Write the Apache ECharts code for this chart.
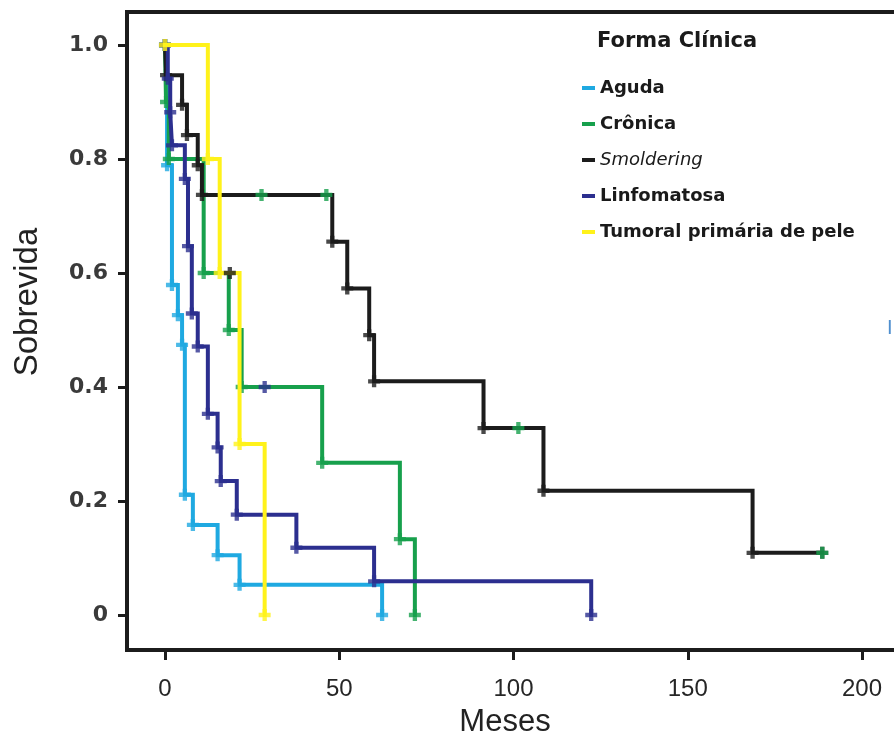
<!DOCTYPE html>
<html>
<head>
<meta charset="utf-8">
<script src="https://cdn.jsdelivr.net/npm/echarts@6/dist/echarts.min.js"></script>
<style>
  html, body { margin: 0; padding: 0; background: #ffffff; }
  #chart { width: 894px; height: 738px; }
</style>
</head>
<body>
<div id="chart"></div>
<script>
// Kaplan-Meier survival by clinical form (months vs. survival proportion)

const seriesNames = ['Aguda', 'Crônica', 'Smoldering', 'Linfomatosa', 'Tumoral primária de pele'];

// Aguda
const agudaTime = [0, 0.6, 2.0, 3.7, 4.9, 5.7, 8.0, 15.1, 21.4, 62.3];
const agudaSurv = [1, 0.789, 0.579, 0.526, 0.474, 0.211, 0.158, 0.105, 0.053, 0];
const agudaCensTime = [];
const agudaCensSurv = [];

// Crônica
const cronicaTime = [0, 0.3, 1.1, 11.1, 18.3, 22.0, 45.1, 67.4, 71.7];
const cronicaSurv = [1, 0.9, 0.8, 0.6, 0.5, 0.4, 0.267, 0.133, 0];
const cronicaCensTime = [28.6];
const cronicaCensSurv = [0.4];

// Smoldering
const smolderingTime = [0, 0.3, 4.9, 6.3, 9.4, 10.6, 48.0, 52.3, 58.6, 60.0, 91.4, 108.6, 168.6, 188.6];
const smolderingSurv = [1, 0.947, 0.895, 0.842, 0.789, 0.737, 0.655, 0.573, 0.491, 0.41, 0.328, 0.218, 0.109, 0.109];
const smolderingCensTime = [27.7, 46.3, 101.4, 188.6];
const smolderingCensSurv = [0.737, 0.737, 0.328, 0.109];

// Linfomatosa
const linfomatosaTime = [0, 0.8, 1.5, 2.0, 5.7, 6.6, 7.7, 9.4, 12.3, 15.1, 16.0, 20.6, 37.7, 60.0, 122.3];
const linfomatosaSurv = [1, 0.941, 0.882, 0.824, 0.765, 0.647, 0.529, 0.471, 0.353, 0.294, 0.235, 0.176, 0.118, 0.059, 0];
const linfomatosaCensTime = [];
const linfomatosaCensSurv = [];

// Tumoral primária de pele
const tumoralTime = [0, 12.3, 15.7, 21.4, 28.6];
const tumoralSurv = [1, 0.8, 0.6, 0.3, 0];
const tumoralCensTime = [18.6];
const tumoralCensSurv = [0.6];

// Axis ticks
const xTickValues = [0, 50, 100, 150, 200];
const yTickValues = [0, 0.2, 0.4, 0.6, 0.8, 1.0];

const colors = {
  'Aguda': '#1fa9e1',
  'Crônica': '#17a04c',
  'Smoldering': '#1c1c1c',
  'Linfomatosa': '#2c2f8f',
  'Tumoral primária de pele': '#fff21a'
};

// censor ticks are drawn with the colour of the neighbouring group
const censorColors = {
  'Aguda': '#fff21a',
  'Crônica': '#2c2f8f',
  'Smoldering': '#17a04c',
  'Linfomatosa': '#1fa9e1',
  'Tumoral primária de pele': '#1c1c1c'
};

const groups = [
  { name: 'Aguda', t: agudaTime, s: agudaSurv, ct: agudaCensTime, cs: agudaCensSurv },
  { name: 'Crônica', t: cronicaTime, s: cronicaSurv, ct: cronicaCensTime, cs: cronicaCensSurv },
  { name: 'Smoldering', t: smolderingTime, s: smolderingSurv, ct: smolderingCensTime, cs: smolderingCensSurv },
  { name: 'Linfomatosa', t: linfomatosaTime, s: linfomatosaSurv, ct: linfomatosaCensTime, cs: linfomatosaCensSurv },
  { name: 'Tumoral primária de pele', t: tumoralTime, s: tumoralSurv, ct: tumoralCensTime, cs: tumoralCensSurv }
];

const plusPath = 'path://M3.2,0H6.8V3.2H10V6.8H6.8V10H3.2V6.8H0V3.2H3.2Z';

const series = [];
groups.forEach(function (g, idx) {
  const pts = g.t.map(function (t, i) { return [t, g.s[i]]; });
  series.push({
    name: g.name,
    type: 'line',
    step: 'end',
    data: pts,
    showSymbol: false,
    symbol: 'none',
    z: 2 + idx,
    lineStyle: { color: colors[g.name], width: 4, cap: 'square', join: 'miter' },
    itemStyle: { color: colors[g.name] },
    emphasis: { disabled: true },
    animation: false
  });
  // event markers at each step corner
  series.push({
    name: g.name + ' eventos',
    type: 'scatter',
    data: pts,
    symbol: plusPath,
    symbolSize: 12,
    z: 2 + idx,
    itemStyle: { color: colors[g.name] },
    emphasis: { disabled: true },
    animation: false
  });
  if (g.ct.length) {
    series.push({
      name: g.name + ' censura',
      type: 'scatter',
      data: g.ct.map(function (t, i) { return [t, g.cs[i]]; }),
      symbol: plusPath,
      symbolSize: 12,
      z: 8,
      itemStyle: { color: censorColors[g.name] },
      emphasis: { disabled: true },
      animation: false
    });
  }
});

const chart = echarts.init(document.getElementById('chart'), null, { renderer: 'canvas' });

chart.setOption({
  backgroundColor: '#ffffff',
  animation: false,
  grid: {
    left: 127,
    top: 12,
    width: 777,
    height: 638,
    outerBoundsMode: 'none',
    containLabel: false,
    show: true,
    borderColor: '#1c1c1c',
    borderWidth: 4,
    backgroundColor: '#ffffff'
  },
  xAxis: {
    type: 'value',
    min: -10.90,
    max: 212.05,
    axisLine: { show: false, onZero: false },
    splitLine: { show: false },
    axisTick: {
      show: true, length: 10, customValues: xTickValues,
      lineStyle: { color: '#1c1c1c', width: 3 }
    },
    axisLabel: {
      customValues: xTickValues, margin: 27,
      fontFamily: 'Liberation Sans', fontSize: 24, color: '#262626'
    }
  },
  yAxis: {
    type: 'value',
    min: -0.0614,
    max: 1.0579,
    axisLine: { show: false, onZero: false },
    splitLine: { show: false },
    axisTick: {
      show: true, length: 9, customValues: yTickValues,
      lineStyle: { color: '#1c1c1c', width: 3 }
    },
    axisLabel: {
      customValues: yTickValues, margin: 19,
      fontFamily: 'DejaVu Sans', fontWeight: 'bold', fontSize: 22, color: '#3a3a3a',
      formatter: function (v) { return v === 0 ? '0' : v.toFixed(1); }
    }
  },
  legend: {
    data: seriesNames,
    orient: 'vertical',
    left: 577,
    top: 73,
    itemGap: 16,
    itemWidth: 13,
    itemHeight: 4,
    icon: 'rect',
    selectedMode: false,
    textStyle: {
      fontFamily: 'DejaVu Sans', fontWeight: 'bold', fontSize: 18, color: '#1a1a1a',
      lineHeight: 20,
      rich: {
        it: { fontFamily: 'DejaVu Sans', fontStyle: 'italic', fontWeight: 'normal', fontSize: 18, color: '#1a1a1a', lineHeight: 20 }
      }
    },
    formatter: function (name) {
      return name === 'Smoldering' ? '{it|Smoldering}' : name;
    }
  },
  graphic: [
    {
      type: 'text', left: 597, top: 31,
      style: { text: 'Forma Clínica', fontFamily: 'DejaVu Sans', fontWeight: 'bold', fontSize: 21, fill: '#1a1a1a' }
    },
    {
      type: 'text', x: 505, y: 722,
      style: { text: 'Meses', fontFamily: 'Liberation Sans', fontSize: 31, fill: '#222222', align: 'center', verticalAlign: 'middle' }
    },
    {
      type: 'text', x: 28, y: 302, rotation: Math.PI / 2,
      style: { text: 'Sobrevida', fontFamily: 'Liberation Sans', fontSize: 33, fill: '#222222', align: 'center', verticalAlign: 'middle' }
    },
    {
      type: 'text', left: 887, top: 318,
      style: { text: 'I', fontFamily: 'Liberation Sans', fontSize: 20, fill: '#4f8fcf' }
    }
  ],
  series: series
});
</script>
</body>
</html>
